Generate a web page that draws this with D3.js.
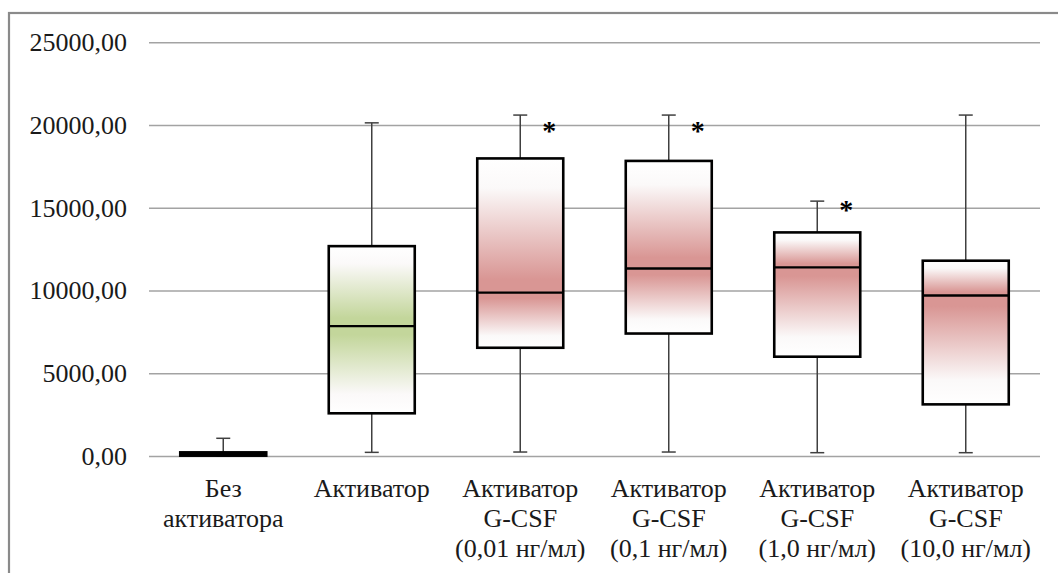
<!DOCTYPE html>
<html>
<head>
<meta charset="utf-8">
<script src="https://cdn.jsdelivr.net/npm/d3@7"></script>
<style>
  html, body { margin: 0; padding: 0; background: #fff; }
  svg { display: block; }
</style>
</head>
<body>
<svg id="chart" width="1058" height="573"></svg>
<script>
// Group labels (one array per line of the multi-line axis label)
const categories = [
  ["Без", "активатора"],
  ["Активатор"],
  ["Активатор", "G-CSF", "(0,01 нг/мл)"],
  ["Активатор", "G-CSF", "(0,1 нг/мл)"],
  ["Активатор", "G-CSF", "(1,0 нг/мл)"],
  ["Активатор", "G-CSF", "(10,0 нг/мл)"]
];

// Box-plot statistics per group
const minValues    = [0,    220,   240,   240,   200,   200];
const q1Values     = [20,   2580,  6540,  7400,  6000,  3120];
const medianValues = [100,  7850,  9870,  11330, 11400, 9700];
const q3Values     = [220,  12680, 17980, 17830, 13510, 11800];
const maxValues    = [1070, 20130, 20600, 20600, 15400, 20600];

// Fill scheme per group: 0 = none, 1 = green, 2 = red
const fillKind = [0, 1, 2, 2, 2, 2];

// Significance marks ("*") and the level they sit at
const starLevels = [null, null, 19950, 19950, 15150, null];

const yTicks = [0, 5000, 10000, 15000, 20000, 25000];

const serif = "'Times New Roman', Tinos, 'Nimbus Roman', 'Nimbus Roman No9 L', FreeSerif, 'Noto Serif', 'Liberation Serif', 'DejaVu Serif', Georgia, Times, serif";
const svg = d3.select("#chart");

// Outer chart frame
svg.append("rect")
  .attr("x", 9).attr("y", 13)
  .attr("width", 1200).attr("height", 700)
  .attr("fill", "none")
  .attr("stroke", "#8a8a8a")
  .attr("stroke-width", 2.2);

const plot = { left: 149, right: 1040, top: 42.25, bottom: 456 };

const x = d3.scaleBand()
  .domain(d3.range(categories.length))
  .range([plot.left, plot.right])
  .paddingInner(0).paddingOuter(0);

const y = d3.scaleLinear()
  .domain([0, 25000])
  .range([plot.bottom, plot.top]);

const fmt = v => d3.format(".2f")(v).replace(".", ",");

// Gradients: colour at the median, fading to white toward the box edge
const defs = svg.append("defs");
const palette = { 1: "#c3d69b", 2: "#d99694" };
Object.entries(palette).forEach(([k, col]) => {
  const up = defs.append("linearGradient")
    .attr("id", "up" + k).attr("x1", 0).attr("y1", 1).attr("x2", 0).attr("y2", 0);
  const dn = defs.append("linearGradient")
    .attr("id", "dn" + k).attr("x1", 0).attr("y1", 0).attr("x2", 0).attr("y2", 1);
  [up, dn].forEach(gr => {
    gr.append("stop").attr("offset", "0%").attr("stop-color", col);
    gr.append("stop").attr("offset", "10%").attr("stop-color", col);
    gr.append("stop").attr("offset", "78%").attr("stop-color", "#fbf9f9");
    gr.append("stop").attr("offset", "100%").attr("stop-color", "#ffffff");
  });
});

// Horizontal gridlines (including the baseline)
const yAxis = d3.axisLeft(y)
  .tickValues(yTicks)
  .tickSize(-(plot.right - plot.left))
  .tickPadding(22)
  .tickFormat(fmt);

const gy = svg.append("g")
  .attr("transform", `translate(${plot.left},0)`)
  .call(yAxis)
  .attr("font-family", serif)
  .attr("font-size", 26);
gy.select(".domain").remove();
gy.selectAll(".tick line")
  .attr("stroke", "#a3a3a3")
  .attr("stroke-width", 1.3);
gy.selectAll(".tick text")
  .attr("fill", "#1a1a1a")
  .style("font-family", serif)
  .style("font-size", "26px");

// Category labels
const gx = svg.append("g");
categories.forEach((lines, i) => {
  const cx = x(i) + x.bandwidth() / 2;
  const t = gx.append("text")
    .attr("text-anchor", "middle")
    .attr("fill", "#1a1a1a")
    .style("font-family", serif)
    .style("font-size", "26px");
  lines.forEach((ln, j) => {
    t.append("tspan")
      .attr("x", cx)
      .attr("y", 497 + j * 30)
      .text(ln);
  });
});

// Boxes
const boxW = 86;
const capW = 14;
const boxes = svg.append("g");
categories.forEach((_, i) => {
  const cx = x(i) + x.bandwidth() / 2;
  const g = boxes.append("g");
  // whiskers
  g.append("line")
    .attr("x1", cx).attr("x2", cx)
    .attr("y1", y(maxValues[i])).attr("y2", y(q3Values[i]))
    .attr("stroke", "#404040").attr("stroke-width", 1.5);
  g.append("line")
    .attr("x1", cx).attr("x2", cx)
    .attr("y1", y(q1Values[i])).attr("y2", y(minValues[i]))
    .attr("stroke", "#404040").attr("stroke-width", 1.5);
  [maxValues[i], minValues[i]].forEach(v => {
    g.append("line")
      .attr("x1", cx - capW / 2).attr("x2", cx + capW / 2)
      .attr("y1", y(v)).attr("y2", y(v))
      .attr("stroke", "#404040").attr("stroke-width", 1.5);
  });
  const k = fillKind[i];
  // upper segment (median to Q3)
  g.append("rect")
    .attr("x", cx - boxW / 2).attr("width", boxW)
    .attr("y", y(q3Values[i]))
    .attr("height", y(medianValues[i]) - y(q3Values[i]))
    .attr("fill", k ? `url(#up${k})` : "#000");
  // lower segment (Q1 to median)
  g.append("rect")
    .attr("x", cx - boxW / 2).attr("width", boxW)
    .attr("y", y(medianValues[i]))
    .attr("height", y(q1Values[i]) - y(medianValues[i]))
    .attr("fill", k ? `url(#dn${k})` : "#000");
  // outline + median
  g.append("rect")
    .attr("x", cx - boxW / 2).attr("width", boxW)
    .attr("y", y(q3Values[i]))
    .attr("height", y(q1Values[i]) - y(q3Values[i]))
    .attr("fill", "none")
    .attr("stroke", "#000").attr("stroke-width", 2.6);
  g.append("line")
    .attr("x1", cx - boxW / 2).attr("x2", cx + boxW / 2)
    .attr("y1", y(medianValues[i])).attr("y2", y(medianValues[i]))
    .attr("stroke", "#000").attr("stroke-width", 2.4);
  // significance star
  if (starLevels[i] !== null) {
    svg.append("text")
      .attr("x", cx + 29)
      .attr("y", y(starLevels[i]) + 14)
      .attr("text-anchor", "middle")
      .style("font-family", serif)
      .style("font-size", "28px")
      .style("font-weight", "bold")
      .attr("fill", "#000")
      .text("*");
  }
});
</script>
</body>
</html>
